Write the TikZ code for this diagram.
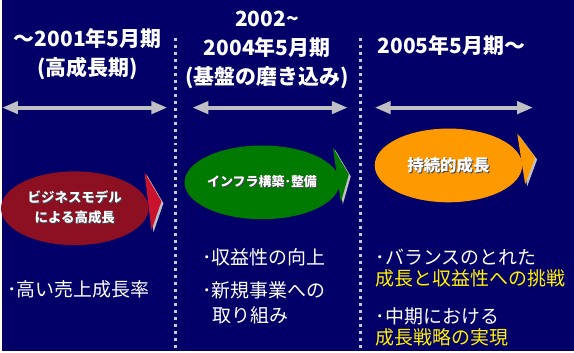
\documentclass[tikz,border=0pt]{standalone}
\usepackage{fontspec}
\setmainfont{Noto Sans CJK JP}
\usetikzlibrary{arrows.meta,shapes.geometric}
\definecolor{bgnavy}{RGB}{2,0,104}
\definecolor{arrowgrey}{RGB}{192,192,196}
\definecolor{dotgrey}{RGB}{200,200,210}
\definecolor{shadowgrey}{RGB}{70,70,80}
\definecolor{darkred}{RGB}{140,16,34}
\definecolor{brightred}{RGB}{200,18,46}
\definecolor{leafgreen}{RGB}{0,122,0}
\definecolor{amber}{RGB}{255,153,0}
\newcommand{\shadowtext}[1]{\rlap{\kern1pt\raisebox{-1pt}{\color{shadowgrey}#1}}#1}

\begin{document}
\begin{tikzpicture}[x=1pt,y=-1pt,
		title/.style={text=white,font=\fontsize{21}{29}\selectfont\bfseries,align=center},
		point/.style={text=white,font=\fontsize{19}{22}\selectfont,align=left,anchor=west,inner sep=0pt},
		phase/.style={ellipse,minimum width=148pt,minimum height=74pt,inner sep=0pt,text=white,align=center,font=\bfseries},
		span/.style={arrowgrey,line width=4pt,{Triangle[length=16pt,width=12pt]}-{Triangle[length=16pt,width=12pt]}},
		divider/.style={dotgrey,line width=3pt,dash pattern=on 3pt off 4pt}]
		\fill[bgnavy] (0,0) rectangle (574,352);
		% dividers
		\coordinate (d1top) at (174,38);
		\coordinate (d1bot) at (174,352);
		\coordinate (d2top) at (360,38);
		\coordinate (d2bot) at (360,352);
		\draw[divider] (d1top)--(d1bot);
		\draw[divider] (d2top)--(d2bot);
		% period titles
		\node[title] (t1) at (86,54) {～2001年5月期\\(高成長期)};
		\node[title] (t2) at (266,50) {2002\textasciitilde\\2004年5月期\\(基盤の磨き込み)};
		\node[title] (t3) at (451,46) {2005年5月期～};
		% period spans
		\coordinate (s1l) at (0,108);
		\coordinate (s1r) at (166,108);
		\coordinate (s2l) at (191,108);
		\coordinate (s2r) at (347,108);
		\coordinate (s3l) at (374,108);
		\coordinate (s3r) at (533,108);
		\draw[span] (s1l)--(s1r);
		\draw[span] (s2l)--(s2r);
		\draw[span] (s3l)--(s3r);
		% triangles
		\fill[arrowgrey] (145,175)--(162,204)--(152,233)--cycle;
		\fill[brightred] (143,173)--(160,202)--(150,231)--cycle;
		\fill[arrowgrey] (334,150)--(350,177)--(342,205)--cycle;
		\fill[leafgreen] (332,148)--(348,175)--(340,203)--cycle;
		\fill[arrowgrey] (519,136)--(537,160)--(527,187)--cycle;
		\fill[amber] (517,134)--(535,158)--(525,185)--cycle;
		% phases
		\node[phase,fill=darkred,font=\fontsize{13.5}{20}\selectfont\bfseries] (p1) at (73,209)
			{\shadowtext{ビジネスモデル}\\\shadowtext{による高成長}};
		\node[phase,fill=leafgreen,font=\fontsize{13}{16}\selectfont\bfseries] (p2) at (261,183)
			{\shadowtext{インフラ構築･整備}};
		\node[phase,fill=amber,font=\fontsize{16.5}{19}\selectfont\bfseries] (p3) at (448,166)
			{\shadowtext{持続的成長}};
		% points
		\node[point] (a1) at (5,290) {･高い売上成長率};
		\node[point] (b1) at (201,258) {･収益性の向上};
		\node[point,font=\fontsize{19}{25}\selectfont] (b2) at (201,304) {･新規事業への\\\hspace*{10pt}取り組み};
		\node[point] (c1) at (375,269) {･バランスのとれた\\\textcolor{yellow}{成長と収益性への挑戦}};
		\node[point] (c2) at (375,328) {･中期における\\\textcolor{yellow}{成長戦略の実現}};
	\end{tikzpicture}
\end{document}
